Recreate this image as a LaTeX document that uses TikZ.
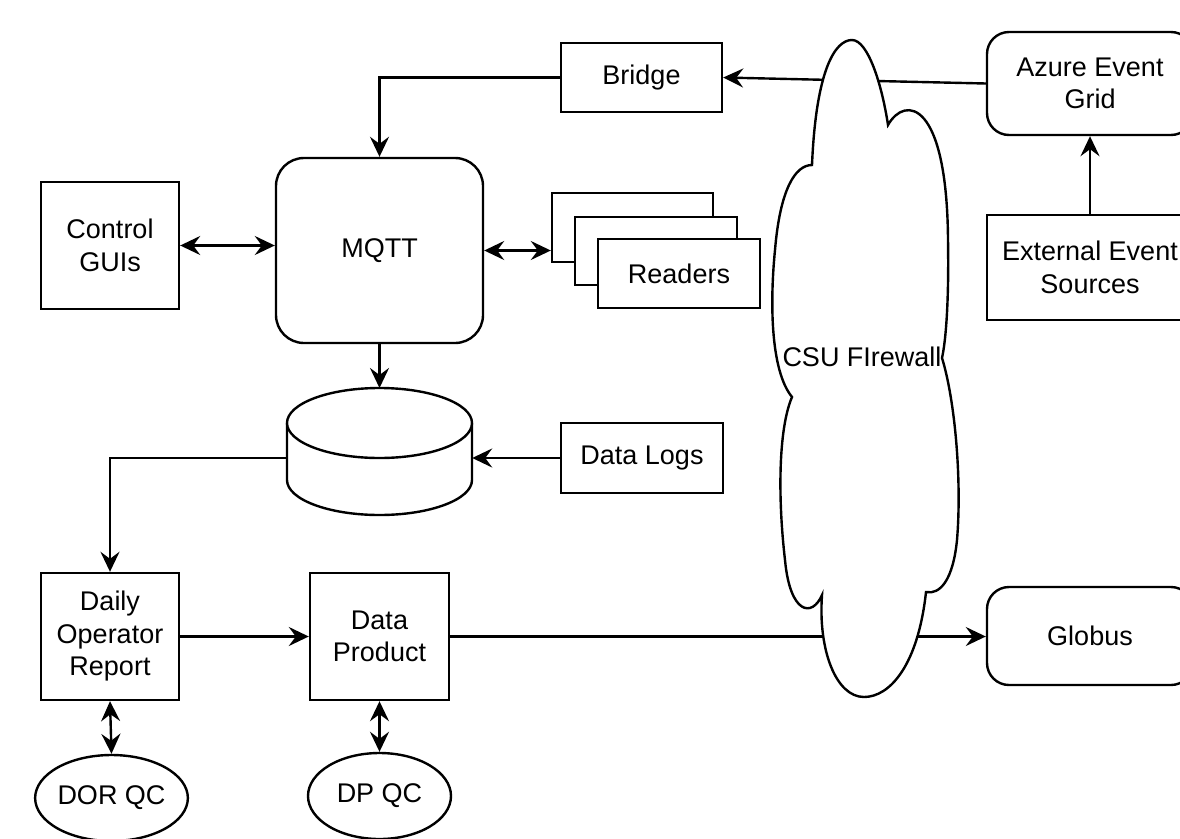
\documentclass[tikz,border=0pt]{standalone}
\usepackage{fontspec}
\setmainfont{Liberation Sans}
\usetikzlibrary{arrows.meta,shapes.geometric}
\begin{document}
\begin{tikzpicture}[x=1pt,y=-1pt,
  every node/.style={font=\fontsize{27}{32.5}\selectfont, align=center, inner sep=0pt},
  box/.style={draw, line width=2.4pt, fill=white},
  rbox/.style={box, rounded corners=22pt},
  conn/.style={line width=2.4pt, -{Stealth[length=20pt,width=19pt,inset=7pt]}},
  dconn/.style={line width=2.4pt, {Stealth[length=20pt,width=19pt,inset=7pt]}-{Stealth[length=20pt,width=19pt,inset=7pt]}},
  qc/.style={draw, line width=2.4pt, ellipse, minimum width=143pt, minimum height=86pt}
]
\useasboundingbox (0,0) rectangle (1180,838);
\fill[white] (0,0) rectangle (1180,838);
\clip (0,0) rectangle (1180,838);

% nodes
\node[box, minimum width=161pt, minimum height=69pt] (bridge) at (641.5,77.5) {Bridge};
\node[rbox, minimum width=206pt, minimum height=103pt] (azure) at (1090,83.5) {Azure Event\\Grid};
\node[box, minimum width=206pt, minimum height=105pt] (ext) at (1090,267.5) {External Event\\Sources};
\node[box, minimum width=138pt, minimum height=127pt] (control) at (110,245.5) {Control\\GUIs};
\node[rbox, rounded corners=28pt, minimum width=207pt, minimum height=185pt] (mqtt) at (379.5,250.5) {MQTT};
\node[box, minimum width=161pt, minimum height=69pt] (readersback) at (632.5,227.5) {};
\node[box, minimum width=162pt, minimum height=68pt] (readersmid) at (656,251) {};
\node[box, minimum width=162pt, minimum height=69pt] (readers) at (679,273.5) {Readers};
\node[minimum width=185pt, minimum height=127pt] (db) at (379.5,451.5) {};
\node[box, minimum width=162pt, minimum height=70pt] (logs) at (642,458) {Data Logs};
\node[box, minimum width=138pt, minimum height=127pt] (dor) at (110,636.5) {Daily\\Operator\\Report};
\node[box, minimum width=139pt, minimum height=127pt] (dp) at (379.5,636.5) {Data\\Product};
\node[rbox, minimum width=206pt, minimum height=98pt] (globus) at (1090,636) {Globus};
\node[qc] (dorqc) at (111.5,798) {DOR QC};
\node[qc] (dpqc) at (379.5,796) {DP QC};

% database cylinder
\draw[line width=2.4pt, fill=white] (287,423) -- (287,480) arc[start angle=180, end angle=360, x radius=92.5, y radius=-35] -- (472,423);
\draw[line width=2.4pt, fill=white] (379.5,423) ellipse [x radius=92.5, y radius=35];
\coordinate (dbtop) at (379.5,388);

% connectors
\draw[conn] (azure.west) -- (bridge.east);
\draw[conn] (ext.north) -- (azure.south);
\draw[conn] (bridge.west) -| (mqtt.north);
\draw[dconn] (control.east) -- (control.east -| mqtt.west);
\draw[dconn] (mqtt.east) -- (mqtt.east -| readersback.west);
\draw[conn] (mqtt.south) -- (dbtop);
\draw[conn] (logs.west) -- (logs.west -| db.east);
\draw[conn] (logs.west -| db.west) -| (dor.north);
\draw[conn] (dor.east) -- (dp.west);
\draw[conn] (dp.east) -- (dp.east -| globus.west);
\draw[dconn] (dor.south) -- (dorqc.north);
\draw[dconn] (dp.south) -- (dpqc.north);

% firewall cloud
\draw[line width=2.4pt, fill=white]
  (812,165) .. controls (816,70) and (835,40) .. (852,40)
  .. controls (868,40) and (882,85) .. (888,125)
  .. controls (905,95) and (947,100) .. (948,240)
  .. controls (949,300) and (946,340) .. (942,358)
  .. controls (955,400) and (962,480) .. (957,540)
  .. controls (953,580) and (940,595) .. (926,592)
  .. controls (918,665) and (890,697) .. (864,697)
  .. controls (836,697) and (818,650) .. (822,595)
  .. controls (812,618) and (790,614) .. (785,560)
  .. controls (778,500) and (778,430) .. (792,397)
  .. controls (770,370) and (770,300) .. (775,250)
  .. controls (780,190) and (795,165) .. (812,165) -- cycle;
\node (firewall) at (862,357) {CSU FIrewall};
\end{tikzpicture}
\end{document}
